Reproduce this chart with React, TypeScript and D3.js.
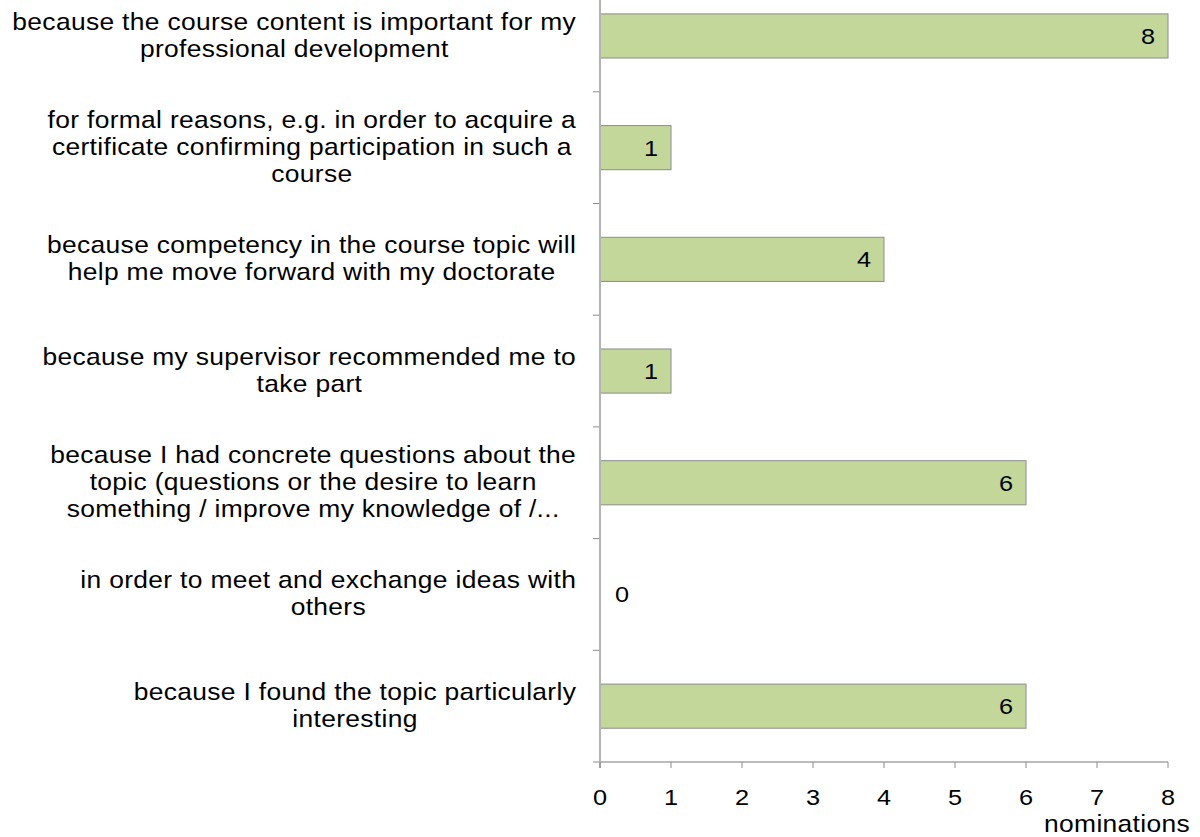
import React, { useMemo } from "react";
import * as d3 from "d3";

// category labels, already wrapped the way the chart shows them
const categories: string[][] = [
  ["because the course content is important for my", "professional development"],
  [
    "for formal reasons, e.g. in order to acquire a",
    "certificate confirming participation in such a",
    "course",
  ],
  ["because competency in the course topic will", "help me move forward with my doctorate"],
  ["because my supervisor recommended me to ", "take part"],
  [
    "because I had concrete questions about the",
    "topic (questions or the desire to learn",
    "something / improve my knowledge of /...",
  ],
  ["in order to meet and exchange ideas with", "others"],
  ["because I found the topic particularly", "interesting"],
];

const values = [8, 1, 4, 1, 6, 0, 6];

const xTicks = [0, 1, 2, 3, 4, 5, 6, 7, 8];
const xTitle = "nominations";

const WIDTH = 1200;
const HEIGHT = 837;
const FONT = "'Liberation Sans', Arial, sans-serif";
const LABEL_SIZE = 24;
const LABEL_LS = 0.3;
const SX = 1.1; // the original picture is a little stretched sideways
const NUM_SIZE = 22;
const NUM_SX = 1.15;
const LINE_H = 27;

const measure = (() => {
  let ctx: CanvasRenderingContext2D | null = null;
  return (s: string) => {
    const t = s.replace(/\s+$/, "");
    if (!ctx) {
      ctx = document.createElement("canvas").getContext("2d");
      if (ctx) ctx.font = `${LABEL_SIZE}px ${FONT}`;
    }
    const w = ctx ? ctx.measureText(t).width : t.length * 12;
    return (w + (t.length - 1) * LABEL_LS) * SX;
  };
})();

const Num = ({ x, y, children }: any) => (
  <text
    transform={`translate(${x},${y}) scale(${NUM_SX},1)`}
    textAnchor="middle"
    fontFamily={FONT}
    fontSize={NUM_SIZE}
    fill="#000"
  >
    {children}
  </text>
);

const Label = ({ x, y, anchor = "start", children }: any) => (
  <text
    transform={`translate(${x},${y}) scale(${SX},1)`}
    textAnchor={anchor}
    fontFamily={FONT}
    fontSize={LABEL_SIZE}
    letterSpacing={LABEL_LS}
    fill="#000"
  >
    {children}
  </text>
);

const BarChart = () => {
  const axisLeft = 600;
  const axisBottom = 762;
  const labelRight = 576;

  const x = useMemo(() => d3.scaleLinear().domain([0, 8]).range([axisLeft, 1168]), []);
  const y = useMemo(
    () =>
      d3
        .scaleBand<number>()
        .domain(d3.range(categories.length))
        .range([axisBottom - categories.length * 111.7, axisBottom])
        .paddingInner(0.605)
        .paddingOuter(0.3025),
    []
  );
  const step = y.step();

  const bars = values.map((v, i) => {
    const cy = (y(i) ?? 0) + y.bandwidth() / 2;
    const lx = v > 0 ? x(v) - 20 : x(0) + 22;
    return (
      <g key={i}>
        {v > 0 && (
          <rect
            x={x(0)}
            y={y(i)}
            width={x(v) - x(0)}
            height={y.bandwidth()}
            fill="#c4d79b"
            stroke="#8c8c8c"
            strokeWidth={1}
          />
        )}
        <Num x={lx} y={cy + 8}>
          {v}
        </Num>
      </g>
    );
  });

  const labels = categories.map((lines, i) => {
    const cy = (y(i) ?? 0) + y.bandwidth() / 2;
    const widths = lines.map(measure);
    const blockW = d3.max(widths) ?? 0;
    const cx = labelRight - blockW / 2;
    return (
      <g key={i}>
        {lines.map((line, j) => (
          <Label key={j} x={cx - widths[j] / 2} y={cy + (j - (lines.length - 1) / 2) * LINE_H + 7.5}>
            {line.trimEnd()}
          </Label>
        ))}
      </g>
    );
  });

  const catTicks = d3.range(categories.length + 1).map((k) => axisBottom - k * step);

  return (
    <svg
      width={WIDTH}
      height={HEIGHT}
      style={{ position: "absolute", left: 0, top: 0, background: "#fff" }}
    >
      {bars}
      {labels}

      {/* category axis */}
      {catTicks.map((t, k) => (
        <line key={k} x1={axisLeft - 7} x2={axisLeft} y1={t} y2={t} stroke="#8c8c8c" strokeWidth={1} />
      ))}
      <line
        x1={axisLeft}
        x2={axisLeft}
        y1={axisBottom - categories.length * step}
        y2={axisBottom + 6}
        stroke="#b3b3b3"
        strokeWidth={2}
      />

      {/* value axis */}
      <line x1={axisLeft} x2={x(8)} y1={axisBottom} y2={axisBottom} stroke="#a6a6a6" strokeWidth={1.5} />
      {xTicks.map((t) => (
        <g key={t}>
          <line x1={x(t)} x2={x(t)} y1={axisBottom} y2={axisBottom + 6} stroke="#8c8c8c" strokeWidth={1} />
          <Num x={x(t)} y={805}>
            {t}
          </Num>
        </g>
      ))}
      <Label x={1190} y={832} anchor="end">
        {xTitle}
      </Label>
    </svg>
  );
};

export default function App() {
  return <BarChart />;
}
